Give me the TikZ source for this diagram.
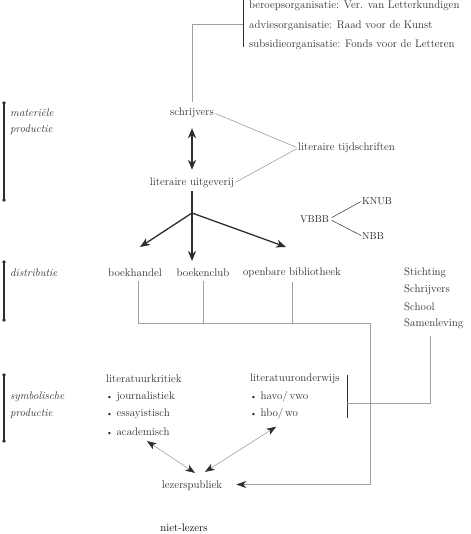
\documentclass[tikz,border=0pt]{standalone}
\usetikzlibrary{arrows.meta,calc}
\definecolor{ink}{HTML}{2E2E2E}
\definecolor{lgray}{HTML}{A0A0A0}
\newcommand{\mybul}{\raisebox{0.6pt}{\fontsize{8.5}{8.5}\selectfont\textbullet}\ }
\begin{document}
\begin{tikzpicture}[x=1pt,y=-1pt,
  txt/.style={font=\fontsize{11}{13}\selectfont, text=ink, inner sep=0pt},
  lbl/.style={font=\fontsize{11}{13}\selectfont\itshape, text=ink, inner sep=0pt},
  caps/.style={font=\fontsize{10}{12}\selectfont, text=ink, inner sep=0pt},
  gline/.style={draw=lgray, line width=0.6pt},
  bigline/.style={draw=ink, line width=1.3pt},
  bigarrow/.style={draw=ink, line width=1.3pt, -{Stealth[length=10pt,width=8pt,inset=3pt]}},
  bigdouble/.style={draw=ink, line width=1.3pt, {Stealth[length=10pt,width=8pt,inset=3pt]}-{Stealth[length=10pt,width=8pt,inset=3pt]}},
  thindouble/.style={draw=lgray, line width=0.6pt, {Stealth[length=9.5pt,width=7pt,inset=2.5pt,color=ink]}-{Stealth[length=9.5pt,width=7pt,inset=2.5pt,color=ink]}},
  sidebar/.style={draw=ink, line width=1.1pt},
  dot/.style={fill=ink}
]
\useasboundingbox (0,0) rectangle (470,534);

% left side bars
\coordinate (m1) at (4,103); \coordinate (m2) at (4,200);
\coordinate (d1) at (4,262); \coordinate (d2) at (4,320);
\coordinate (p1) at (4,375); \coordinate (p2) at (4,441);
\draw[sidebar] (m1) -- (m2);
\draw[sidebar] (d1) -- (d2);
\draw[sidebar] (p1) -- (p2);
\foreach \c in {m1,m2,d1,d2,p1,p2} \fill[dot] (\c) circle (1.8);
\node[lbl,anchor=west] (lmat1) at (10,113) {materiële};
\node[lbl,anchor=west] (lmat2) at (10,130) {productie};
\node[lbl,anchor=west] (ldis) at (10,273) {distributie};
\node[lbl,anchor=west] (lsym1) at (10,397) {symbolische};
\node[lbl,anchor=west] (lsym2) at (10,414) {productie};

% top organisations
\coordinate (otop) at (243,0); \coordinate (obot) at (243,47); \coordinate (omid) at (243,24);
\draw[draw=ink, line width=0.9pt] (otop) -- (obot);
\node[txt,anchor=west] (org1) at (249,6) {beroepsorganisatie: Ver. van Letterkundigen};
\node[txt,anchor=west] (org2) at (249,26) {adviesorganisatie: Raad voor de Kunst};
\node[txt,anchor=west] (org3) at (249,45) {subsidieorganisatie: Fonds voor de Letteren};

% material production
\node[txt] (schr) at (192,113) {schrijvers};
\node[txt] (uitg) at (192,183) {literaire uitgeverij};
\node[txt,anchor=west] (tijd) at (298,148) {literaire tijdschriften};
\draw[gline, shorten >=6pt] (omid) -| (schr.north);
\draw[bigdouble, shorten <=10pt, shorten >=8pt] (schr.south) -- (uitg.north);
\draw[gline, shorten <=1.5pt, shorten >=1.5pt] (schr.east) -- (tijd.west);
\draw[gline, shorten <=1.5pt, shorten >=1.5pt] (uitg.east) -- (tijd.west);

% distribution
\coordinate (br) at (192,213);
\coordinate (a1) at (140,247);
\coordinate (a2) at (192,261);
\coordinate (a3) at (286,247);
\draw[bigline, shorten <=3pt] (uitg.south) -- (br);
\draw[bigarrow] (br) -- (a1);
\draw[bigarrow] (br) -- (a2);
\draw[bigarrow] (br) -- (a3);
\node[txt] (bh) at (135,273) {boekhandel};
\node[txt] (bc) at (203,273) {boekenclub};
\node[txt] (ob) at (292,273) {openbare bibliotheek};

\node[caps,anchor=west] (vbbb) at (300,219) {VBBB};
\node[caps,anchor=west] (knub) at (362,201) {KNUB};
\node[caps,anchor=west] (nbb) at (362,236) {NBB};
\draw[draw=ink, line width=0.5pt, shorten <=3pt, shorten >=1pt] (vbbb.east) -- (knub.west);
\draw[draw=ink, line width=0.5pt, shorten <=3pt, shorten >=1pt] (vbbb.east) -- (nbb.west);

\node[txt,anchor=west] (st1) at (404,273) {Stichting};
\node[txt,anchor=west] (st2) at (404,290) {Schrijvers};
\node[txt,anchor=west] (st3) at (404,307) {School};
\node[txt,anchor=west] (st4) at (404,324) {Samenleving};

% symbolic production
\node[txt,anchor=west] (lk) at (106,379) {literatuurkritiek};
\node[txt,anchor=west] (lk1) at (106,397) {\mybul journalistiek};
\node[txt,anchor=west] (lk2) at (106,414) {\mybul essayistisch};
\node[txt,anchor=west] (lk3) at (106,432) {\mybul academisch};
\node[txt,anchor=west] (lo) at (250,379) {literatuuronderwijs};
\node[txt,anchor=west] (lo1) at (250,397) {\mybul havo/\,vwo};
\node[txt,anchor=west] (lo2) at (250,414) {\mybul hbo/\,wo};
\coordinate (lb1) at (347,375); \coordinate (lb2) at (347,418); \coordinate (lbm) at (347,403);
\draw[draw=ink, line width=0.9pt] (lb1) -- (lb2);

\node[txt] (lez) at (192,486) {lezerspubliek};
\node[txt, text=black] (niet) at (184,528) {niet-lezers};

% grey routing
\coordinate (hub) at (370,323);
\draw[gline, shorten <=4pt] ([xshift=3pt]bh.south) |- (hub);
\draw[gline, shorten <=4pt] (bc.south) -- (bc.south |- hub);
\draw[gline, shorten <=4pt] (ob.south) -- (ob.south |- hub);
\draw[gline, -{Stealth[length=10pt,width=7pt,inset=3pt,color=ink]}, shorten >=14pt] (hub) |- ([yshift=1.5pt]lez.east);
\draw[gline, shorten <=7pt] ([xshift=-3pt]st4.south) |- (lbm);

\draw[thindouble] ([shift={(9,5)}]lk3.south) -- ([shift={(3,-8)}]lez.north);
\draw[thindouble] ([shift={(13,-9)}]lez.north) -- ([shift={(2,7)}]lo2.south);
\end{tikzpicture}
\end{document}
